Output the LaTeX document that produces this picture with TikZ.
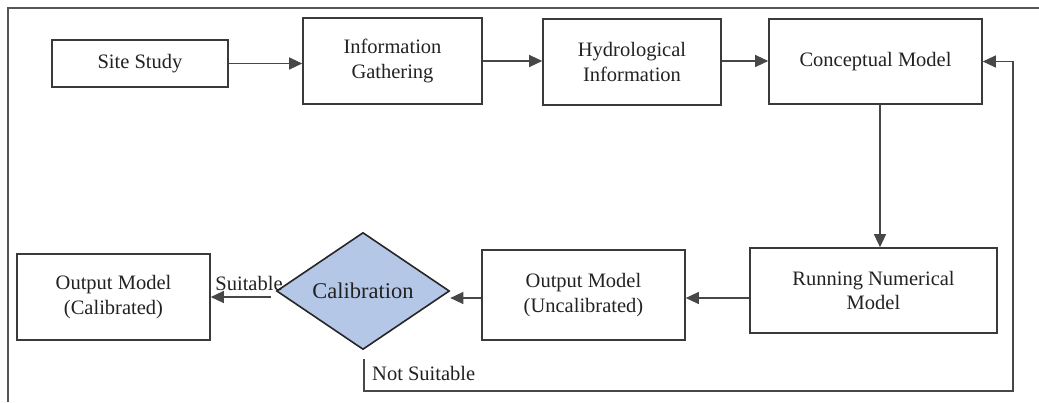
\documentclass[tikz,border=0pt]{standalone}
\usepackage{fontspec}
\setmainfont{Liberation Serif}
\usetikzlibrary{arrows.meta,shapes.geometric}
\definecolor{boxline}{HTML}{3A3A3A}
\definecolor{conn}{HTML}{474747}
\definecolor{frame}{HTML}{555555}
\definecolor{txt}{HTML}{222222}
\definecolor{decfill}{HTML}{B4C7E7}
\tikzset{
  box/.style={draw=boxline, line width=1.6pt, rectangle, align=center, inner sep=0pt,
              text=txt, font=\fontsize{20.5}{24.6}\selectfont},
  decision/.style={draw=black!85, line width=1.6pt, diamond, fill=decfill, inner sep=0pt,
              text=txt, font=\fontsize{22.5}{26}\selectfont},
  arr/.style={draw=conn, line width=1.2pt, -{Triangle[length=13pt,width=12pt]}},
  link/.style={draw=conn, line width=1.2pt},
  lbl/.style={inner sep=0pt, text=txt, font=\fontsize{20.5}{24.6}\selectfont}
}
\begin{document}
\begin{tikzpicture}[x=1pt,y=-1pt]
\useasboundingbox (0,0) rectangle (1039,402);
% outer frame
\draw[frame, line width=1.5pt] (8,402) -- (8,8) -- (1039,8);

% top row
\node[box, minimum width=176pt, minimum height=47pt] (site) at (140,63.5) {Site Study};
\node[box, minimum width=179pt, minimum height=86pt] (info) at (392.5,61) {Information\\Gathering};
\node[box, minimum width=178pt, minimum height=86pt] (hydro) at (632,62) {Hydrological\\Information};
\node[box, minimum width=213pt, minimum height=85pt] (concept) at (875.5,61.5) {Conceptual Model};

% bottom row
\node[box, minimum width=247pt, minimum height=85pt] (run) at (873.5,290.5) {Running Numerical\\Model};
\node[box, minimum width=203pt, minimum height=90pt] (unc) at (583.5,295) {Output Model\\(Uncalibrated)};
\node[decision, minimum width=173pt, minimum height=106pt] (cal) at (363,291) {Calibration};
\node[box, minimum width=193pt, minimum height=86pt] (outc) at (113.5,297) {Output Model\\(Calibrated)};

% top row connectors
\draw[arr] (site.east) -- (site.east -| info.west);
\draw[arr] (info.east) -- (info.east -| hydro.west);
\draw[arr] ([yshift=1pt]hydro.east) -- ([yshift=1pt]hydro.east -| concept.west);

% down to the numerical model
\coordinate (cdown) at ([xshift=4.5pt]concept.south);
\draw[arr] (cdown) -- (cdown |- run.north);

% bottom row connectors
\coordinate (r1) at ([yshift=-7.5pt]run.west);
\draw[arr] (r1) -- (r1 -| unc.east);
\coordinate (u1) at ([yshift=-3pt]unc.west);
\draw[arr] (u1) -- (u1 -| cal.east);
\coordinate (s1) at ([xshift=-5pt,yshift=-6pt]cal.west);
\draw[arr] (s1) -- (s1 -| outc.east);
\node[lbl, anchor=base] (suit) at (249,290) {Suitable};

% feedback loop back to the conceptual model
\coordinate (ns) at ([xshift=1pt,yshift=-9pt]cal.south);
\coordinate (fb) at (1013,391);
\draw[arr] (ns) |- (fb) |- (concept.east);
\node[lbl, anchor=base west] (notsuit) at (372,380) {Not Suitable};
\end{tikzpicture}
\end{document}
